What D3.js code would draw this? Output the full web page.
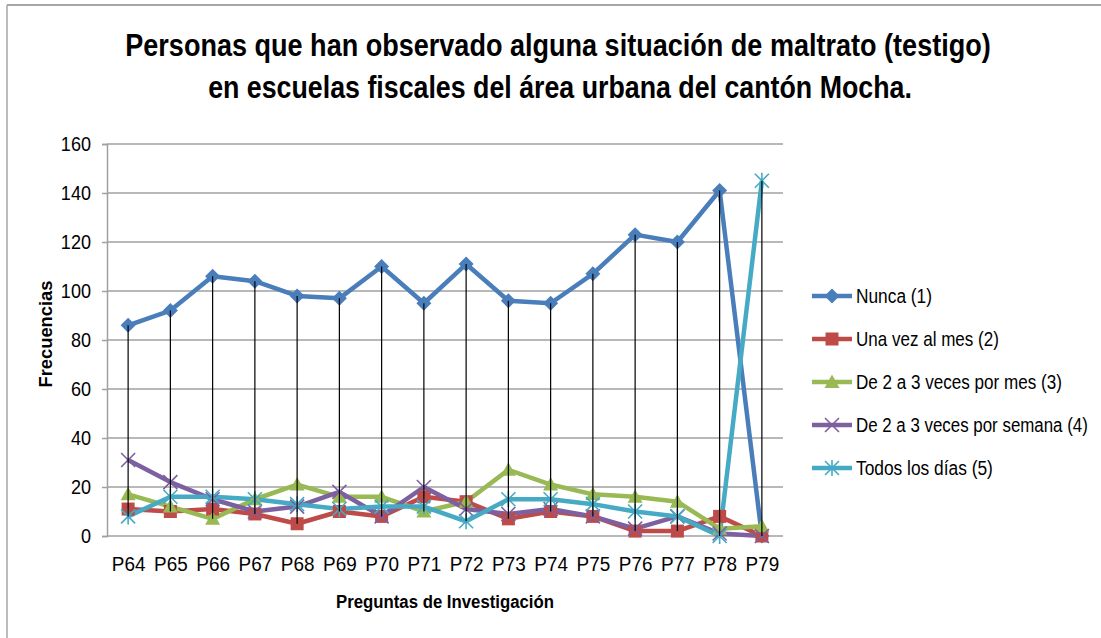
<!DOCTYPE html>
<html>
<head>
<meta charset="utf-8">
<script src="https://cdn.jsdelivr.net/npm/d3@7"></script>
<style>
  html, body { margin: 0; padding: 0; background: #fff; }
  svg { display: block; }
  text { font-family: "Liberation Sans", Arial, sans-serif; fill: #000; }
</style>
</head>
<body>
<svg id="chart" width="1101" height="638"></svg>
<script>
// Questions on the category axis
const categories = ["P64","P65","P66","P67","P68","P69","P70","P71","P72","P73","P74","P75","P76","P77","P78","P79"];

// Frequencies per answer option
const nunca        = [86, 92, 106, 104, 98, 97, 110, 95, 111, 96, 95, 107, 123, 120, 141, 0];
const unaVezMes    = [11, 10, 11, 9, 5, 10, 8, 16, 14, 7, 10, 8, 2, 2, 8, 0];
const dosTresMes   = [17, 12, 7, 15, 21, 16, 16, 10, 14, 27, 21, 17, 16, 14, 3, 4];
const dosTresSem   = [31, 22, 15, 10, 12, 18, 8, 20, 11, 9, 11, 8, 3, 8, 1, 0];
const todosLosDias = [8, 16, 16, 15, 13, 11, 12, 12, 6, 15, 15, 13, 10, 8, 0, 145];

const seriesNames = ["Nunca (1)", "Una vez al mes (2)", "De 2 a 3 veces por mes (3)", "De 2 a 3 veces por semana (4)", "Todos los días (5)"];
const yTicks = [0, 20, 40, 60, 80, 100, 120, 140, 160];

const colors = ["#4a7ebb", "#be4b48", "#98b954", "#7d60a0", "#46aac5"];
const markers = ["diamond", "square", "triangle", "x", "star"];
const seriesValues = [nunca, unaVezMes, dosTresMes, dosTresSem, todosLosDias];

const series = seriesNames.map((name, i) => ({
  name, color: colors[i], marker: markers[i],
  values: categories.map((c, j) => ({ cat: c, v: seriesValues[i][j] }))
}));

const svg = d3.select("#chart");
const W = 1101, H = 638;
const plot = { left: 107, right: 783, top: 144, bottom: 536 };

// place a text at (px, py) and squeeze it horizontally to the given width
function fitText(parent, str, px, py, width, attrs) {
  const t = parent.append("text").attr("x", 0).attr("y", 0).text(str);
  Object.entries(attrs || {}).forEach(([k, v]) => t.attr(k, v));
  const w = t.node().getComputedTextLength();
  t.attr("transform", `translate(${px},${py}) scale(${width / w},1)`);
  return t;
}

// squeeze axis tick labels by a factor around their anchor
function condenseTicks(sel, k) {
  sel.each(function () {
    const t = d3.select(this);
    const tx = +t.attr("x") || 0, ty = t.attr("y") || 0;
    t.attr("transform", `translate(${tx},0) scale(${k},1) translate(${-tx},0)`);
  });
}

// chart-area frame (top and left edges)
svg.append("line").attr("x1", 7).attr("x2", W).attr("y1", 5).attr("y2", 5)
  .attr("stroke", "#a6a6a6").attr("stroke-width", 2);
svg.append("line").attr("x1", 7).attr("x2", 7).attr("y1", 5).attr("y2", H)
  .attr("stroke", "#a6a6a6").attr("stroke-width", 1.5);

const x = d3.scalePoint().domain(categories).range([plot.left, plot.right]).padding(0.5);
const y = d3.scaleLinear().domain([0, 160]).range([plot.bottom, plot.top]);

// horizontal gridlines
svg.append("g").selectAll("line").data(yTicks.filter(t => t > 0)).join("line")
  .attr("x1", plot.left).attr("x2", plot.right)
  .attr("y1", d => y(d)).attr("y2", d => y(d))
  .attr("stroke", "#a0a0a0").attr("stroke-width", 1.5);

// value axis
const yAxis = svg.append("g").attr("transform", `translate(${plot.left},0)`)
  .call(d3.axisLeft(y).tickValues(yTicks).tickSize(5).tickPadding(11).tickFormat(d3.format("d")));
yAxis.select(".domain").attr("stroke", "#a0a0a0").attr("stroke-width", 1.5);
yAxis.selectAll(".tick line").attr("stroke", "#a0a0a0").attr("stroke-width", 1.5);
yAxis.selectAll(".tick text").attr("font-size", 21).attr("fill", "#000")
  .attr("font-family", "'Liberation Sans', sans-serif");
condenseTicks(yAxis.selectAll(".tick text"), 0.86);

// category axis
const xAxis = svg.append("g").attr("transform", `translate(0,${plot.bottom})`)
  .call(d3.axisBottom(x).tickSize(0).tickPadding(20));
xAxis.select(".domain").attr("stroke", "#a0a0a0").attr("stroke-width", 1.5)
  .attr("d", `M${plot.left},0H${plot.right}`);
xAxis.selectAll(".tick text").attr("font-size", 21).attr("fill", "#000")
  .attr("font-family", "'Liberation Sans', sans-serif");
condenseTicks(xAxis.selectAll(".tick text"), 0.9);

// series lines
const line = d3.line().x(d => x(d.cat)).y(d => y(d.v));
const gSeries = svg.append("g");
series.forEach(s => {
  gSeries.append("path").datum(s.values)
    .attr("fill", "none").attr("stroke", s.color).attr("stroke-width", 4.5)
    .attr("stroke-linejoin", "round").attr("d", line);
});

function drawMarker(g, type, color, cx, cy) {
  if (type === "diamond") {
    g.append("path").attr("d", `M${cx},${cy-7.5}L${cx+7.5},${cy}L${cx},${cy+7.5}L${cx-7.5},${cy}Z`).attr("fill", color);
  } else if (type === "square") {
    g.append("rect").attr("x", cx-6.5).attr("y", cy-6.5).attr("width", 13).attr("height", 13).attr("fill", color);
  } else if (type === "triangle") {
    g.append("path").attr("d", `M${cx},${cy-7.5}L${cx+7.5},${cy+6}L${cx-7.5},${cy+6}Z`).attr("fill", color);
  } else if (type === "x") {
    g.append("path").attr("d", `M${cx-7},${cy-7}L${cx+7},${cy+7}M${cx+7},${cy-7}L${cx-7},${cy+7}`)
      .attr("stroke", color).attr("stroke-width", 1.6).attr("fill", "none");
  } else if (type === "star") {
    g.append("path").attr("d", `M${cx-7},${cy-7}L${cx+7},${cy+7}M${cx+7},${cy-7}L${cx-7},${cy+7}M${cx},${cy-8}L${cx},${cy+8}`)
      .attr("stroke", color).attr("stroke-width", 1.6).attr("fill", "none");
  }
}

// markers
const gMarkers = svg.append("g");
series.forEach(s => {
  s.values.forEach(d => drawMarker(gMarkers, s.marker, s.color, x(d.cat), y(d.v)));
});

// high-low lines
const hiLo = categories.map((c, j) => {
  const vals = seriesValues.map(a => a[j]);
  return { cat: c, hi: d3.max(vals), lo: d3.min(vals) };
});
svg.append("g").selectAll("line").data(hiLo).join("line")
  .attr("x1", d => x(d.cat)).attr("x2", d => x(d.cat))
  .attr("y1", d => y(d.hi)).attr("y2", d => y(d.lo))
  .attr("stroke", "#000").attr("stroke-width", 1.2);

// title
const title = svg.append("g");
fitText(title, "Personas que han observado alguna situación de maltrato (testigo)", 558, 56, 866,
  { "text-anchor": "middle", "font-size": 31, "font-weight": "bold" });
fitText(title, "en escuelas fiscales del área urbana del cantón Mocha.", 560, 98, 704,
  { "text-anchor": "middle", "font-size": 31, "font-weight": "bold" });

// axis titles
fitText(svg, "Preguntas de Investigación", 445, 608, 218,
  { "text-anchor": "middle", "font-size": 19, "font-weight": "bold" });
const yTitle = svg.append("g").attr("transform", "translate(52,334) rotate(-90)");
fitText(yTitle, "Frecuencias", 0, 0, 107,
  { "text-anchor": "middle", "font-size": 19, "font-weight": "bold" });

// legend
const legendWidths = [76, 143, 206, 232, 137];
const legend = svg.append("g").attr("transform", "translate(812,296)");
series.forEach((s, i) => {
  const g = legend.append("g").attr("transform", `translate(0,${i * 43})`);
  g.append("line").attr("x1", 0).attr("x2", 40).attr("y1", 0).attr("y2", 0)
    .attr("stroke", s.color).attr("stroke-width", 4.5);
  drawMarker(g, s.marker, s.color, 20, 0);
  fitText(g, s.name, 44, 7, legendWidths[i], { "font-size": 21 });
});
</script>
</body>
</html>
